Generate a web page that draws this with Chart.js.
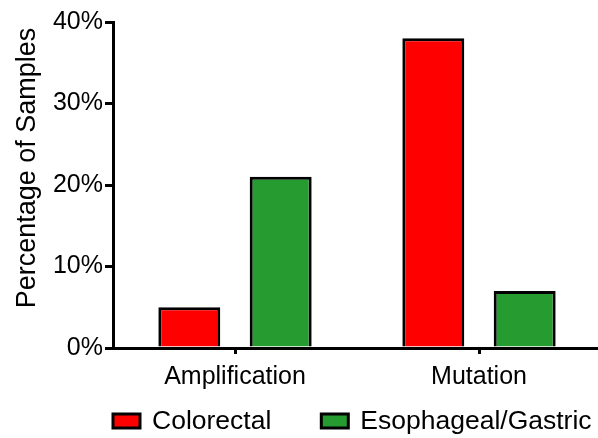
<!DOCTYPE html>
<html><head><meta charset="utf-8">
<script src="https://cdn.jsdelivr.net/npm/chart.js@4"></script>
<style>html,body{margin:0;padding:0;background:#fff;}#wrap{width:598px;height:438px;}</style>
</head><body><div id="wrap"><canvas id="c" width="598" height="438"></canvas></div>
<script>
const categories = ['Amplification', 'Mutation'];
const colorectal = [5, 38];
const esophagealGastric = [21, 7];
const seriesNames = ['Colorectal', 'Esophageal/Gastric'];
const yTicks = [0, 10, 20, 30, 40];
const yTitle = 'Percentage of Samples';

const FONT = '"Liberation Sans", Arial, sans-serif';

// y-axis title and bottom legend drawn by a small plugin for exact placement
const decorPlugin = {
  id: 'decor',
  afterLayout(chart) {
    // the original plot area runs slightly past the right edge of the picture
    const x = chart.scales.x;
    x.right += 3;
    x.width += 3;
    x.configure();
  },
  afterDraw(chart) {
    const ctx = chart.ctx;
    const ca = chart.chartArea;
    ctx.save();
    // y title
    ctx.font = '27px ' + FONT;
    ctx.fillStyle = '#000';
    ctx.textAlign = 'center';
    ctx.textBaseline = 'alphabetic';
    ctx.translate(35, (ca.top + ca.bottom) / 2 - 17);
    ctx.rotate(-Math.PI / 2);
    ctx.fillText(yTitle, 0, 0);
    ctx.restore();

    // legend
    ctx.save();
    ctx.font = '26.5px ' + FONT;
    ctx.textBaseline = 'alphabetic';
    ctx.textAlign = 'left';
    let x = 113;
    const boxW = 27, boxH = 14, boxY = 414;
    chart.data.datasets.forEach(ds => {
      ctx.fillStyle = ds.backgroundColor;
      ctx.fillRect(x, boxY, boxW, boxH);
      ctx.lineWidth = 3;
      ctx.strokeStyle = '#000';
      ctx.strokeRect(x, boxY, boxW, boxH);
      ctx.fillStyle = '#000';
      const tx = x + boxW + 12;
      ctx.fillText(ds.label, tx, 429);
      x = tx + ctx.measureText(ds.label).width + 50;
    });
    ctx.restore();
  }
};

new Chart(document.getElementById('c'), {
  type: 'bar',
  data: {
    labels: categories,
    datasets: [
      {label: seriesNames[0], data: colorectal, backgroundColor: '#ff0000', borderColor: '#000', borderWidth: 3, categoryPercentage: 0.749, barPercentage: 0.678},
      {label: seriesNames[1], data: esophagealGastric, backgroundColor: '#259b30', borderColor: '#000', borderWidth: 3, categoryPercentage: 0.749, barPercentage: 0.678}
    ]
  },
  plugins: [decorPlugin],
  options: {
    responsive: false,
    animation: false,
    devicePixelRatio: 1,
    layout: {padding: {top: 22, right: 0, left: 0, bottom: 0}},
    plugins: {
      legend: {display: false},
      tooltip: {enabled: false}
    },
    scales: {
      x: {
        border: {color: '#000', width: 3},
        grid: {offset: false, drawOnChartArea: false, drawTicks: true, tickLength: 6, color: '#000', lineWidth: 3},
        ticks: {color: '#000', font: {family: FONT, size: 25}, padding: 8},
        afterFit(s) { s.height = 90; }
      },
      y: {
        min: 0, max: 40,
        afterBuildTicks(s) { s.ticks = yTicks.map(v => ({value: v})); },
        border: {color: '#000', width: 3},
        grid: {drawOnChartArea: false, drawTicks: true, tickLength: 8, color: '#000', lineWidth: 3},
        ticks: {color: '#000', font: {family: FONT, size: 25}, padding: 2, callback: v => v + '%'},
        title: {display: false},
        afterFit(s) { s.width = 113; }
      }
    }
  }
});
</script></body></html>
